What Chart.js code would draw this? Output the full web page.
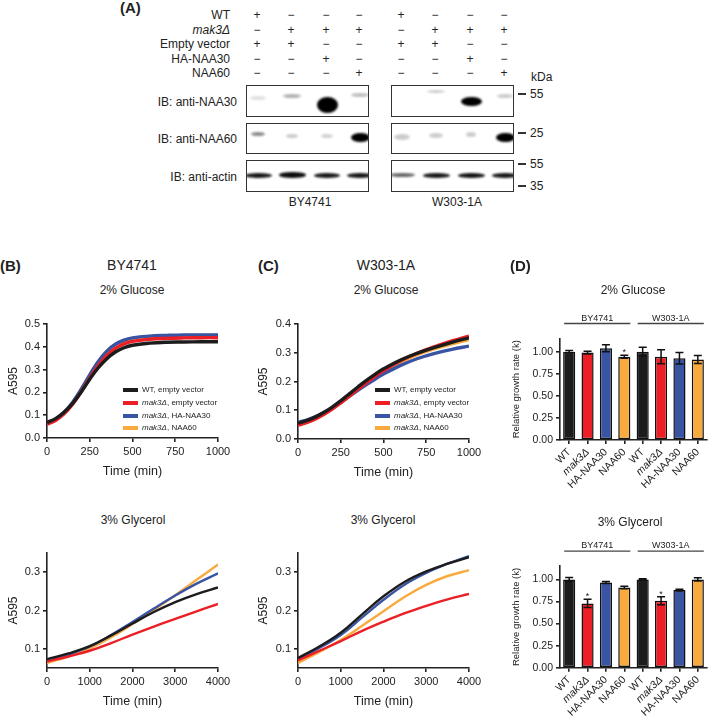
<!DOCTYPE html>
<html>
<head>
<meta charset="utf-8">
<script src="https://cdn.jsdelivr.net/npm/chart.js@4.4.0/dist/chart.umd.min.js"></script>
<style>
  body { margin: 0; background: #fff; width: 711px; height: 717px; position: relative; overflow: hidden;
         font-family: "Liberation Sans", Arial, sans-serif; color: #222; }
  .t { position: absolute; white-space: nowrap; line-height: 1; }
  canvas { position: absolute; }
  .blot { position: absolute; border: 1.5px solid #333; background: #fff; overflow: hidden; box-sizing: border-box; }
  .band { position: absolute; background: #000; border-radius: 50%; filter: blur(1.3px); }
  .key { position: absolute; height: 4px; width: 15px; }
</style>
</head>
<body>
<canvas id="bGlu"></canvas>
<canvas id="cGlu"></canvas>
<canvas id="dGlu"></canvas>
<canvas id="bGly"></canvas>
<canvas id="cGly"></canvas>
<canvas id="dGly"></canvas>
<script>
// growth curves (A595 against time)
const glucoseTime = [0, 50, 100, 150, 200, 250, 300, 350, 400, 450, 500, 600, 700, 800, 900, 1000];
const glycerolTime = [0, 500, 1000, 1500, 2000, 2500, 3000, 3500, 4000];

const seriesNames = ['WT, empty vector', 'mak3Δ, empty vector', 'mak3Δ, HA-NAA30', 'mak3Δ, NAA60'];
const seriesColors = ['#1c1c1c', '#ec1f26', '#3a54a4', '#f8aa3f'];

const byGluWT    = [0.068, 0.085, 0.113, 0.152, 0.202, 0.258, 0.308, 0.348, 0.377, 0.396, 0.407, 0.416, 0.420, 0.421, 0.422, 0.422];
const byGluMak3  = [0.060, 0.077, 0.106, 0.148, 0.203, 0.263, 0.318, 0.362, 0.393, 0.413, 0.424, 0.433, 0.437, 0.439, 0.440, 0.440];
const byGluNaa30 = [0.065, 0.083, 0.113, 0.157, 0.214, 0.277, 0.336, 0.381, 0.411, 0.429, 0.439, 0.447, 0.450, 0.452, 0.452, 0.452];
const byGluNaa60 = [0.063, 0.081, 0.111, 0.155, 0.212, 0.275, 0.334, 0.379, 0.409, 0.427, 0.437, 0.445, 0.448, 0.450, 0.450, 0.450];

const wGluWT    = [0.055, 0.064, 0.076, 0.092, 0.111, 0.133, 0.157, 0.181, 0.204, 0.225, 0.244, 0.275, 0.299, 0.319, 0.336, 0.352];
const wGluMak3  = [0.048, 0.057, 0.069, 0.085, 0.104, 0.126, 0.149, 0.173, 0.196, 0.218, 0.238, 0.272, 0.299, 0.321, 0.341, 0.358];
const wGluNaa30 = [0.058, 0.066, 0.077, 0.091, 0.108, 0.127, 0.148, 0.169, 0.189, 0.208, 0.226, 0.256, 0.280, 0.298, 0.312, 0.323];
const wGluNaa60 = [0.050, 0.059, 0.071, 0.087, 0.106, 0.127, 0.150, 0.173, 0.195, 0.216, 0.236, 0.268, 0.294, 0.314, 0.331, 0.346];

const byGlyWT    = [0.073, 0.088, 0.107, 0.135, 0.166, 0.196, 0.222, 0.243, 0.260];
const byGlyMak3  = [0.067, 0.080, 0.095, 0.115, 0.137, 0.158, 0.178, 0.198, 0.217];
const byGlyNaa30 = [0.068, 0.085, 0.106, 0.136, 0.170, 0.205, 0.239, 0.270, 0.297];
const byGlyNaa60 = [0.063, 0.080, 0.101, 0.130, 0.165, 0.202, 0.240, 0.280, 0.320];

const wGlyWT    = [0.076, 0.106, 0.142, 0.190, 0.237, 0.275, 0.302, 0.322, 0.339];
const wGlyMak3  = [0.070, 0.095, 0.120, 0.147, 0.171, 0.193, 0.212, 0.229, 0.243];
const wGlyNaa30 = [0.073, 0.102, 0.136, 0.182, 0.228, 0.268, 0.298, 0.322, 0.342];
const wGlyNaa60 = [0.063, 0.092, 0.123, 0.160, 0.198, 0.236, 0.267, 0.290, 0.305];

const gluTimeTicks = [0, 250, 500, 750, 1000];
const glyTimeTicks = [0, 1000, 2000, 3000, 4000];
const byGluTicks = [0, 0.1, 0.2, 0.3, 0.4, 0.5];
const wGluTicks = [0, 0.1, 0.2, 0.3, 0.4];
const glyTicks = [0.1, 0.2, 0.3];

// relative growth rates (D)
const barLabels = ['WT', 'mak3Δ', 'HA-NAA30', 'NAA60', 'WT', 'mak3Δ', 'HA-NAA30', 'NAA60'];
const gluRate = [1.00, 0.99, 1.04, 0.943, 1.00, 0.943, 0.925, 0.913];
const gluErr  = [0.015, 0.015, 0.04, 0.018, 0.05, 0.08, 0.065, 0.045];
const gluSig  = ['', '', '', '*', '', '', '', ''];
const glyRate = [1.00, 0.728, 0.966, 0.909, 1.00, 0.758, 0.879, 1.00];
const glyErr  = [0.022, 0.047, 0.012, 0.015, 0.008, 0.045, 0.01, 0.018];
const glySig  = ['', '*', '', '', '', '*', '', ''];
const rateTicks = [0, 0.25, 0.5, 0.75, 1.0];
const strainGroups = ['BY4741', 'W303-1A'];
const groupSpans = [[0, 3], [4, 7]];

// western blot (A)
const condRows = ['WT', '<i>mak3Δ</i>', 'Empty vector', 'HA-NAA30', 'NAA60'];
const condSigns = [
  '+---+---',
  '-+++-+++',
  '++--++--',
  '--+---+-',
  '---+---+'
];
// [y in box, width, height, darkness] per lane
const naa30BY = [[12, 16, 4, 0.12], [10, 18, 4, 0.3], [18.5, 21, 16, 1], [9, 18, 4, 0.25]];
const naa30W  = [[0, 0, 0, 0], [5, 18, 3, 0.2], [15.5, 21, 9, 1], [10, 16, 4, 0.2]];
const naa60BY = [[10, 14, 4, 0.45], [12, 12, 4, 0.2], [12, 12, 4, 0.18], [13, 19, 9, 1]];
const naa60W  = [[13, 16, 6, 0.2], [11, 14, 5, 0.2], [10, 10, 5, 0.2], [13.5, 19, 9, 1]];
const actinBY = [[14, 27, 5, 0.9], [14, 27, 5.5, 0.95], [14, 26, 5, 0.9], [14, 26, 5, 0.9]];
const actinW  = [[14, 25, 4, 0.6], [14, 27, 5, 0.9], [14, 27, 5, 0.92], [14, 26, 5, 0.9]];

const FONT = '"Liberation Sans", Arial, sans-serif';
const INK = '#222';
Chart.defaults.font.family = FONT;
Chart.defaults.color = INK;

function txt(s, x, y, o = {}) {
  const d = document.createElement('div');
  d.className = 't';
  d.innerHTML = s;
  d.style.fontSize = (o.size || 12) + 'px';
  if (o.bold) d.style.fontWeight = 'bold';
  d.style.left = x + 'px';
  d.style.top = y + 'px';
  const tx = o.align === 'right' ? '-100%' : o.align === 'left' ? '0' : '-50%';
  d.style.transform = `translate(${tx}, -50%)`;
  document.body.appendChild(d);
}

// ---------- panel A ----------
const lanesBY = [257, 291, 326, 359];
const lanesW = [401, 435, 470, 504];
const lanes = lanesBY.concat(lanesW);
txt('(A)', 120, 7, { size: 15, bold: true, align: 'left' });
condRows.forEach((r, i) => {
  const y = 15 + i * 14.6;
  txt(r, 230, y, { align: 'right' });
  condSigns[i].split('').forEach((s, j) => txt(s === '+' ? '+' : '−', lanes[j], y));
});
txt('kDa', 531, 77, { align: 'left' });

function blot(left, top, h, lanePos, bands) {
  const b = document.createElement('div');
  b.className = 'blot';
  Object.assign(b.style, { left: left + 'px', top: top + 'px', width: '123px', height: h + 'px' });
  bands.forEach(([y, w, bh, a], i) => {
    if (!a) return;
    const d = document.createElement('div');
    d.className = 'band';
    Object.assign(d.style, {
      left: (lanePos[i] - left - w / 2) + 'px', top: (y - bh / 2) + 'px',
      width: w + 'px', height: bh + 'px', opacity: a
    });
    b.appendChild(d);
  });
  document.body.appendChild(b);
}
const blotRows = [
  { label: 'IB: anti-NAA30', top: 85, h: 32, by: naa30BY, w: naa30W },
  { label: 'IB: anti-NAA60', top: 123, h: 31, by: naa60BY, w: naa60W },
  { label: 'IB: anti-actin', top: 160, h: 32, by: actinBY, w: actinW }
];
blotRows.forEach(r => {
  blot(246, r.top, r.h, lanesBY, r.by);
  blot(391, r.top, r.h, lanesW, r.w);
  txt(r.label, 237, r.top + r.h / 2 + 0.5, { align: 'right' });
});
[['55', 94], ['25', 133], ['55', 164], ['35', 186]].forEach(([m, y]) => {
  const d = document.createElement('div');
  Object.assign(d.style, { position: 'absolute', left: '518px', top: (y - 0.75) + 'px', width: '8px', height: '1.5px', background: '#333' });
  document.body.appendChild(d);
  txt(m, 530, y, { align: 'left' });
});
txt('BY4741', 310, 202);
txt('W303-1A', 457, 202);

// ---------- titles ----------
txt('(B)', 0, 265, { size: 15, bold: true, align: 'left' });
txt('(C)', 258, 265, { size: 15, bold: true, align: 'left' });
txt('(D)', 510, 265, { size: 15, bold: true, align: 'left' });
txt('BY4741', 132, 265, { size: 14 });
txt('W303-1A', 386, 265, { size: 14 });
txt('2% Glucose', 132, 290);
txt('2% Glucose', 386, 290);
txt('2% Glucose', 633, 290);
txt('3% Glycerol', 133, 520);
txt('3% Glycerol', 383, 520);
txt('3% Glycerol', 630, 522);

// ---------- line charts ----------
function axisStyle() {
  return {
    grid: { drawOnChartArea: false, drawTicks: true, tickLength: 4, color: INK, lineWidth: 1.6 },
    border: { display: true, color: INK, width: 1.6 }
  };
}

function lineChart(id, box, area, times, series, yMin, yMax, yTicks, xTicks, lw) {
  const cv = document.getElementById(id);
  cv.width = box.w; cv.height = box.h;
  cv.style.left = box.x + 'px'; cv.style.top = box.y + 'px';
  const xH = 41;
  return new Chart(cv, {
    type: 'line',
    data: {
      datasets: series.map((vals, i) => ({
        label: seriesNames[i],
        data: vals.map((v, j) => ({ x: times[j], y: v })),
        borderColor: seriesColors[i],
        backgroundColor: seriesColors[i],
        borderWidth: lw,
        pointRadius: 0,
        tension: 0.4,
        fill: false
      }))
    },
    options: {
      responsive: false, animation: false, devicePixelRatio: 1,
      layout: { padding: { left: 0, top: area.top - box.y, right: box.x + box.w - area.right, bottom: box.y + box.h - area.bottom - xH } },
      plugins: { legend: { display: false }, tooltip: { enabled: false } },
      scales: {
        x: {
          type: 'linear', min: xTicks[0], max: xTicks[xTicks.length - 1],
          afterBuildTicks: s => { s.ticks = xTicks.map(v => ({ value: v })); },
          afterFit: s => { s.height = xH; },
          ticks: { font: { size: 11 }, padding: 3, maxRotation: 0, color: INK, callback: v => String(v) },
          title: { display: true, text: 'Time (min)', font: { size: 12.5 }, padding: 0, color: INK },
          ...axisStyle()
        },
        y: {
          type: 'linear', min: yMin, max: yMax,
          afterBuildTicks: s => { s.ticks = yTicks.map(v => ({ value: v })); },
          afterFit: s => { s.width = area.left - box.x; },
          ticks: { font: { size: 11 }, padding: 3, color: INK, callback: v => v.toFixed(1) },
          title: { display: true, text: 'A595', font: { size: 12 }, padding: { top: 6, bottom: 0 }, color: INK },
          ...axisStyle()
        }
      }
    }
  });
}

function legend(chart, x, y0) {
  chart.data.datasets.forEach((ds, i) => {
    const y = y0 + i * 12.8;
    const k = document.createElement('div');
    k.className = 'key';
    Object.assign(k.style, { left: x + 'px', top: (y - 2) + 'px', background: ds.borderColor });
    document.body.appendChild(k);
    const label = ds.label.replace('mak3Δ', '<i>mak3Δ</i>');
    txt(label, x + 19, y, { size: 8, align: 'left' });
  });
}

const bGlu = lineChart('bGlu', { x: 0, y: 305, w: 236, h: 175 }, { left: 47, right: 218, top: 324, bottom: 438 },
  glucoseTime, [byGluWT, byGluMak3, byGluNaa30, byGluNaa60], 0, 0.5, byGluTicks, gluTimeTicks, 3.4);
legend(bGlu, 123, 390);

const cGlu = lineChart('cGlu', { x: 250, y: 305, w: 236, h: 175 }, { left: 298, right: 469, top: 324, bottom: 439 },
  glucoseTime, [wGluWT, wGluMak3, wGluNaa30, wGluNaa60], 0, 0.4, wGluTicks, gluTimeTicks, 3.4);
legend(cGlu, 375, 390);

lineChart('bGly', { x: 0, y: 535, w: 236, h: 176 }, { left: 47, right: 218, top: 553, bottom: 668 },
  glycerolTime, [byGlyWT, byGlyMak3, byGlyNaa30, byGlyNaa60], 0.05, 0.35, glyTicks, glyTimeTicks, 2.4);

lineChart('cGly', { x: 250, y: 535, w: 236, h: 176 }, { left: 298, right: 469, top: 553, bottom: 668 },
  glycerolTime, [wGlyWT, wGlyMak3, wGlyNaa30, wGlyNaa60], 0.05, 0.35, glyTicks, glyTimeTicks, 2.4);

// ---------- bar charts ----------
function barExtras(values, errs, sig) {
  return {
    id: 'barExtras',
    afterDatasetsDraw(chart) {
      const ctx = chart.ctx, ys = chart.scales.y, xs = chart.scales.x;
      const meta = chart.getDatasetMeta(0);
      ctx.save();
      ctx.strokeStyle = '#111';
      ctx.lineWidth = 1.5;
      ctx.fillStyle = INK;
      ctx.textAlign = 'center';
      ctx.textBaseline = 'alphabetic';
      ctx.font = '9px ' + FONT;
      meta.data.forEach((bar, i) => {
        const hi = ys.getPixelForValue(values[i] + errs[i]);
        const lo = ys.getPixelForValue(values[i] - errs[i]);
        ctx.beginPath();
        ctx.moveTo(bar.x, hi); ctx.lineTo(bar.x, lo);
        ctx.moveTo(bar.x - 4, hi); ctx.lineTo(bar.x + 4, hi);
        ctx.moveTo(bar.x - 4, lo); ctx.lineTo(bar.x + 4, lo);
        ctx.stroke();
        if (sig[i]) ctx.fillText(sig[i], bar.x, hi);
      });
      // strain brackets
      const top = chart.chartArea.top - 15;
      ctx.strokeStyle = '#444';
      ctx.lineWidth = 1.3;
      strainGroups.forEach((g, k) => {
        const [a, b] = groupSpans[k];
        const x0 = xs.getPixelForValue(a) - 5, x1 = xs.getPixelForValue(b) + 6;
        ctx.beginPath(); ctx.moveTo(x0, top); ctx.lineTo(x1, top); ctx.stroke();
        ctx.fillText(g, (x0 + x1) / 2, top - 3);
      });
      ctx.restore();
    }
  };
}

function barChart(id, box, area, values, errs, sig) {
  const cv = document.getElementById(id);
  cv.width = box.w; cv.height = box.h;
  cv.style.left = box.x + 'px'; cv.style.top = box.y + 'px';
  const xH = 48;
  const colors = barLabels.map((l, i) => seriesColors[i % 4]);
  return new Chart(cv, {
    type: 'bar',
    data: {
      labels: barLabels,
      datasets: [{
        data: values, backgroundColor: colors, borderColor: '#111', borderWidth: 1.5,
        borderSkipped: false, barPercentage: 0.66, categoryPercentage: 1
      }]
    },
    options: {
      responsive: false, animation: false, devicePixelRatio: 1,
      layout: { padding: { left: 0, top: area.top - box.y, right: box.x + box.w - area.right, bottom: box.y + box.h - area.bottom - xH } },
      plugins: { legend: { display: false }, tooltip: { enabled: false } },
      scales: {
        x: {
          afterFit: s => { s.height = xH; },
          ticks: {
            autoSkip: false, minRotation: 45, maxRotation: 45, padding: 2, color: INK,
            font: c => ({ size: 10.5, style: barLabels[c.index] === 'mak3Δ' ? 'italic' : 'normal' })
          },
          grid: { offset: false, drawOnChartArea: false, tickLength: 4, color: INK, lineWidth: 1.6 },
          border: { display: true, color: INK, width: 1.6 }
        },
        y: {
          min: 0, max: 1.15,
          afterBuildTicks: s => { s.ticks = rateTicks.map(v => ({ value: v })); },
          afterFit: s => { s.width = area.left - box.x; },
          ticks: { font: { size: 10.5 }, padding: 3, color: INK, callback: v => v.toFixed(2) },
          title: { display: true, text: 'Relative growth rate (k)', font: { size: 9.5 }, padding: { top: 31, bottom: 0 }, color: INK },
          ...axisStyle()
        }
      }
    },
    plugins: [barExtras(values, errs, sig)]
  });
}

barChart('dGlu', { x: 480, y: 300, w: 231, h: 200 }, { left: 560, right: 707, top: 338.5, bottom: 440 }, gluRate, gluErr, gluSig);
barChart('dGly', { x: 480, y: 528, w: 231, h: 189 }, { left: 560, right: 707, top: 566.2, bottom: 667.7 }, glyRate, glyErr, glySig);
</script>
</body>
</html>
